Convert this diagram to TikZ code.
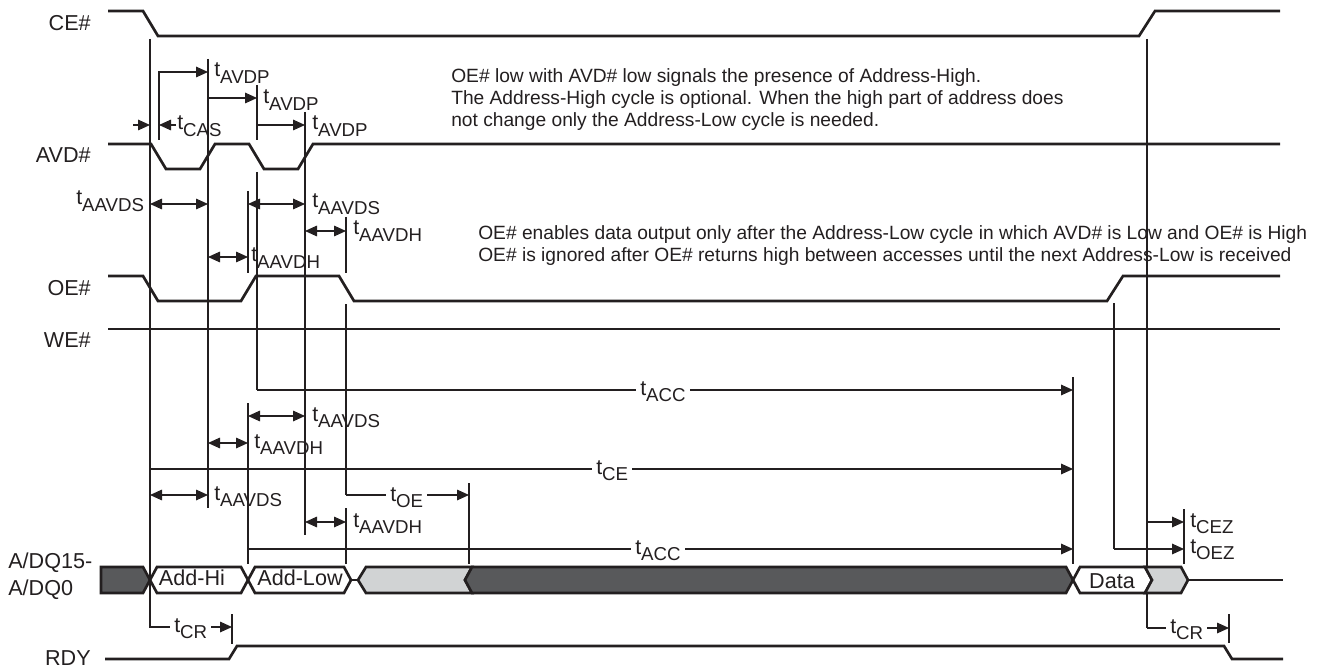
\documentclass[tikz,border=0pt]{standalone}
\usepackage{fontspec}
\setmainfont{Liberation Sans}
\usetikzlibrary{arrows.meta}
\definecolor{ink}{HTML}{231F20}
\definecolor{busdark}{HTML}{58595B}
\definecolor{busgray}{HTML}{D1D3D4}
\newcommand{\tlab}[1]{t\raisebox{-4.6pt}{\fontsize{14}{16}\selectfont #1}}
\tikzset{
  signal/.style={line width=2pt,color=ink,line join=miter},
  guide/.style={line width=0.85pt,color=ink},
  guideb/.style={line width=1.25pt,color=ink},
  dimto/.style={line width=0.8pt,color=ink,-{Triangle[length=9pt,width=8pt]}},
  dimboth/.style={line width=0.8pt,color=ink,{Triangle[length=9pt,width=8pt]}-{Triangle[length=9pt,width=8pt]}},
  buswhite/.style={signal,fill=white},
  busdarkbox/.style={signal,fill=busdark},
  busgraybox/.style={signal,fill=busgray},
  siglab/.style={text=ink,font=\fontsize{16.2}{18}\selectfont,inner sep=0pt},
  timelab/.style={text=ink,font=\fontsize{16}{18}\selectfont,inner sep=0pt,anchor=base west},
  gaplab/.style={timelab,fill=white,inner xsep=3pt,inner ysep=1pt},
  notelab/.style={text=ink,font=\fontsize{14.4}{16.7}\selectfont,inner sep=0pt,anchor=north west,align=left}
}
\begin{document}
\begin{tikzpicture}[x=0.75pt,y=0.75pt,yscale=-1,xscale=1]
\useasboundingbox (0,0) rectangle (1320,670);

%Reference Lines
\draw [guideb] (150,39) -- (150,627) -- (170,627);
\draw [guideb] (208,59) -- (208,508);
\draw [guide] (257,85) -- (257,140);
\draw [guide] (257,172) -- (257,390);
\draw [guide] (305,112) -- (305,535);
\draw [guide] (248,191) -- (248,273);
\draw [guide] (248,403) -- (248,564);
\draw [guide] (346,217) -- (346,273);
\draw [guide] (346,304) -- (346,495);
\draw [guide] (346,508) -- (346,564);
\draw [guide] (469,483) -- (469,564);
\draw [guide] (1073,377) -- (1073,564);
\draw [guide] (1114,303) -- (1114,549);
\draw [guideb] (1147,39) -- (1147,628);
\draw [guide] (1184,509) -- (1184,564);
\draw [guide] (232,614) -- (232,644);
\draw [guide] (1229,614) -- (1229,643);

%Timing Arrows
\draw [dimto] (159,140) -- (159,72) -- (208,72);
\draw [dimto] (208,98) -- (257,98);
\draw [dimto] (257,125) -- (305,125);
\draw [dimto] (133,125) -- (150,125);
\draw [dimto] (176,125) -- (159,125);
\draw [dimboth] (150,204) -- (208,204);
\draw [dimboth] (248,204) -- (305,204);
\draw [dimboth] (305,231) -- (346,231);
\draw [dimboth] (208,257) -- (248,257);
\draw [dimto] (257,390) -- (1073,390);
\draw [dimboth] (248,416) -- (305,416);
\draw [dimboth] (208,443) -- (248,443);
\draw [dimto] (150,469) -- (1073,469);
\draw [dimboth] (150,495) -- (208,495);
\draw [dimto] (346,495) -- (469,495);
\draw [dimboth] (305,522) -- (346,522);
\draw [dimto] (248,549) -- (1073,549);
\draw [dimto] (1114,549) -- (1184,549);
\draw [dimto] (1147,522) -- (1184,522);
\draw [dimto] (150,627) -- (232,627);
\draw [dimto] (1147,628) -- (1229,628);

%Signals
\draw [signal] (108,11) -- (143,11) -- (158,36) -- (1139,36) -- (1155,11) -- (1280,11);
\draw [signal] (108,144) -- (151,144) -- (166,169) -- (200,169) -- (215,144) -- (249,144) -- (264,169) -- (298,169) -- (313,144) -- (1280,144);
\draw [signal] (108,276) -- (143,276) -- (158,301) -- (241,301) -- (256,276) -- (339,276) -- (354,301) -- (1107,301) -- (1123,276) -- (1280,276);
\draw [signal] (108,329) -- (1280,329);
\draw [signal] (105,659) -- (229,659) -- (237,646) -- (1224,646) -- (1232,659) -- (1283,659);

%Bus
\draw [signal] (351,580) -- (358,580);
\draw [signal] (1188,580) -- (1283,580);
\draw [busdarkbox] (101,567) -- (143,567) -- (150,580) -- (143,593) -- (101,593) -- cycle;
\draw [buswhite] (150,580) -- (157,567) -- (241,567) -- (248,580) -- (241,593) -- (157,593) -- cycle;
\draw [buswhite] (248,580) -- (255,567) -- (344,567) -- (351,580) -- (344,593) -- (255,593) -- cycle;
\draw [busgraybox] (358,580) -- (366,567) -- (472,567) -- (465,580) -- (472,593) -- (366,593) -- cycle;
\draw [busdarkbox] (465,580) -- (472,567) -- (1066,567) -- (1073,580) -- (1066,593) -- (472,593) -- cycle;
\draw [buswhite] (1073,580) -- (1080,567) -- (1145,567) -- (1152,580) -- (1145,593) -- (1080,593) -- cycle;
\draw [busgraybox] (1145,567) -- (1181,567) -- (1188,580) -- (1181,593) -- (1145,593) -- (1152,580) -- cycle;

% Text Node
\draw (91,23) node [siglab,anchor=east] (lblce) {CE\#};
% Text Node
\draw (91,155) node [siglab,anchor=east] (lblavd) {AVD\#};
% Text Node
\draw (91,288) node [siglab,anchor=east] (lbloe) {OE\#};
% Text Node
\draw (91,340) node [siglab,anchor=east] (lblwe) {WE\#};
% Text Node
\draw (91,658) node [siglab,anchor=east] (lblrdy) {RDY};
% Text Node
\draw (8,563) node [siglab,anchor=west] (lbldqhi) {A/DQ15-};
% Text Node
\draw (8,590) node [siglab,anchor=west] (lbldqlo) {A/DQ0};
% Text Node
\draw (192,578) node [siglab] (lbladdhi) {Add-Hi};
% Text Node
\draw (300,578) node [siglab] (lbladdlow) {Add-Low};
% Text Node
\draw (1112,581) node [siglab] (lbldata) {Data};

% Text Node
\draw (214,77) node [timelab] (tavdpa) {\tlab{AVDP}};
% Text Node
\draw (263,104) node [timelab] (tavdpb) {\tlab{AVDP}};
% Text Node
\draw (312,130) node [timelab] (tavdpc) {\tlab{AVDP}};
% Text Node
\draw (177,130) node [timelab] (tcas) {\tlab{CAS}};
% Text Node
\draw (76,205) node [timelab] (taavdsa) {\tlab{AAVDS}};
% Text Node
\draw (312,208) node [timelab] (taavdsb) {\tlab{AAVDS}};
% Text Node
\draw (353,235) node [timelab] (taavdha) {\tlab{AAVDH}};
% Text Node
\draw (251,262) node [timelab] (taavdhb) {\tlab{AAVDH}};
% Text Node
\draw (312,421) node [timelab] (taavdsc) {\tlab{AAVDS}};
% Text Node
\draw (254,448) node [timelab] (taavdhc) {\tlab{AAVDH}};
% Text Node
\draw (214,500) node [timelab] (taavdsd) {\tlab{AAVDS}};
% Text Node
\draw (353,527) node [timelab] (taavdhd) {\tlab{AAVDH}};
% Text Node
\draw (636,395) node [gaplab] (tacca) {\tlab{ACC}};
% Text Node
\draw (592,474) node [gaplab] (tce) {\tlab{CE}};
% Text Node
\draw (386,501) node [gaplab] (toe) {\tlab{OE}};
% Text Node
\draw (631,554) node [gaplab] (taccb) {\tlab{ACC}};
% Text Node
\draw (170,632) node [gaplab] (tcra) {\tlab{CR}};
% Text Node
\draw (1166,633) node [gaplab] (tcrb) {\tlab{CR}};
% Text Node
\draw (1190,527) node [timelab] (tcez) {\tlab{CEZ}};
% Text Node
\draw (1190,553) node [timelab] (toez) {\tlab{OEZ}};

% Text Node
\draw (451,68) node [notelab] (notehigh) {OE\# low with AVD\# low signals the presence of Address-High.\\The Address-High cycle is optional. When the high part of address does\\not change only the Address-Low cycle is needed.};
% Text Node
\draw (478,225) node [notelab] (notelow) {OE\# enables data output only after the Address-Low cycle in which AVD\# is Low and OE\# is High\\OE\# is ignored after OE\# returns high between accesses until the next Address-Low is received};

\end{tikzpicture}
\end{document}
